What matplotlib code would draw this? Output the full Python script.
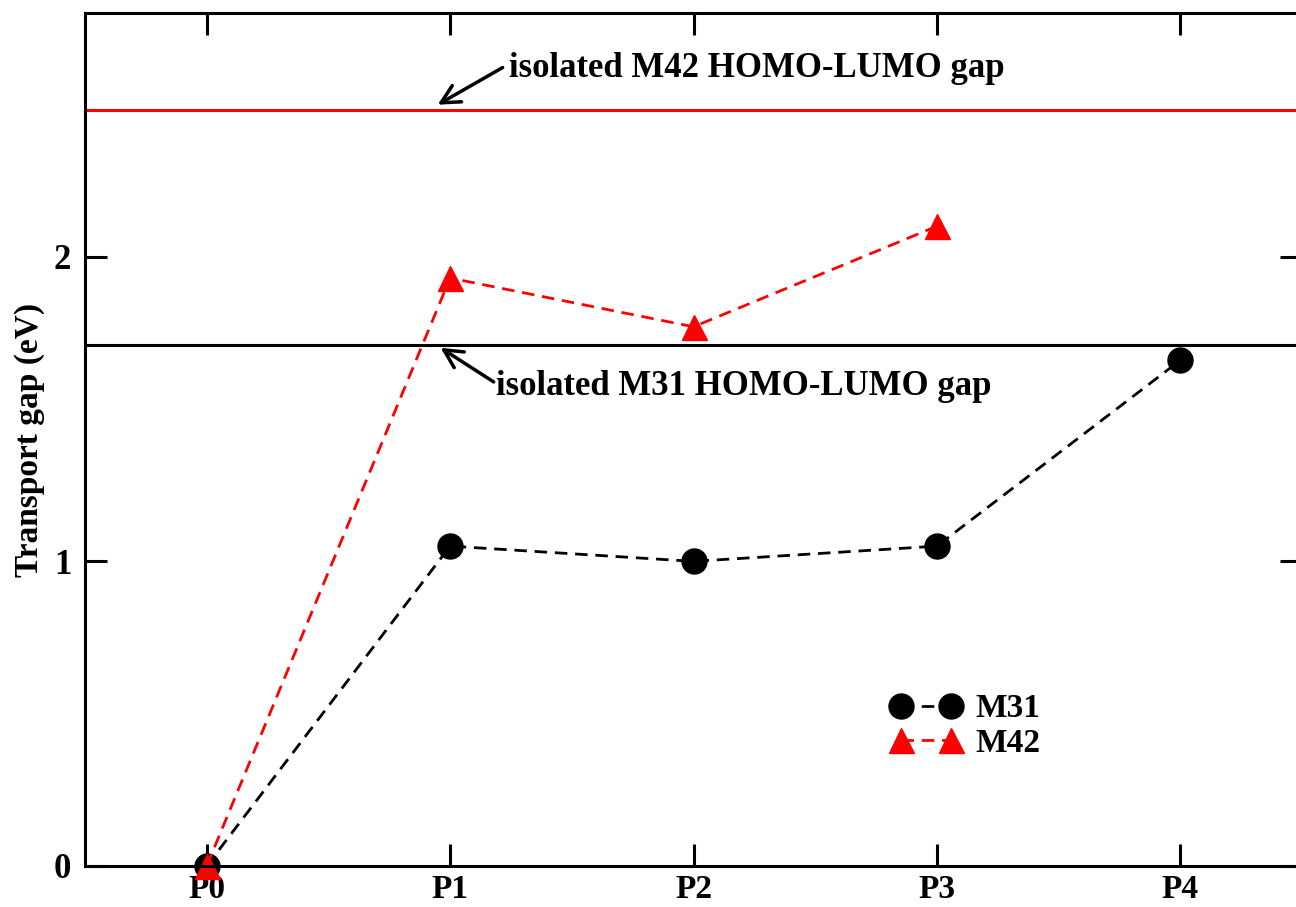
import numpy as np
from matplotlib import pyplot as plt

# data
labels = ['P0', 'P1', 'P2', 'P3', 'P4']
m31_gap = [0.0, 1.05, 1.0, 1.05, 1.66]
m42_gap = [0.0, 1.93, 1.77, 2.10]
m31_isolated = 1.71
m42_isolated = 2.48

plt.rcParams['font.family'] = ['Liberation Serif', 'DejaVu Serif']
plt.rcParams['font.weight'] = 'bold'

fig = plt.figure(figsize=(12.96, 9.07), dpi=100)
ax = fig.add_axes([85 / 1296, 41 / 907, 1217 / 1296, 853 / 907])

x = np.arange(len(labels))
ax.axhline(m42_isolated, color='red', lw=2.2)
ax.axhline(m31_isolated, color='black', lw=2.2)

ax.plot(x, m31_gap, color='black', ls=(0, (4.5, 2.8)), lw=2.0,
        marker='o', ms=18, label='M31', clip_on=False, zorder=3)
ax.plot(x[:len(m42_gap)], m42_gap, color='red', ls=(0, (4.5, 2.8)), lw=2.0,
        marker='^', ms=18, label='M42', clip_on=False, zorder=4)

arrow = dict(arrowstyle='->, head_length=0.55, head_width=0.28', color='black',
             lw=2.5, mutation_scale=24, shrinkA=0, shrinkB=0)
ax.annotate('', xy=(0.949, 2.499), xytext=(1.216, 2.621), arrowprops=arrow)
ax.text(1.24, 2.591, 'isolated M42 HOMO-LUMO gap', fontsize=25,
        fontweight='bold', va='baseline', ha='left')
ax.annotate('', xy=(0.961, 1.701), xytext=(1.179, 1.589), arrowprops=arrow)
ax.text(1.187, 1.547, 'isolated M31 HOMO-LUMO gap', fontsize=25,
        fontweight='bold', va='baseline', ha='left')

ax.set_xlim(-0.5, 4.5)
ax.set_ylim(0, 2.8)
ax.set_xticks(x)
ax.set_xticklabels(labels)
ax.set_yticks([0, 1, 2])
ax.tick_params(direction='in', length=16, width=2.2, labelsize=25,
               top=True, right=True)
ax.tick_params(axis='x', pad=6, labelsize=24)
ax.tick_params(axis='y', pad=10)
for s in ax.spines.values():
    s.set_linewidth(2.2)
    s.set_zorder(5)
ax.set_ylabel('Transport gap (eV)', fontsize=24, fontweight='bold', labelpad=6)

ax.legend(loc='center left', bbox_to_anchor=(0.662, 0.164), frameon=False,
          fontsize=24, numpoints=2, handlelength=2.1, handletextpad=0.45,
          labelspacing=0.1, borderpad=0, borderaxespad=0)

fig.savefig('out.png', dpi=100)
